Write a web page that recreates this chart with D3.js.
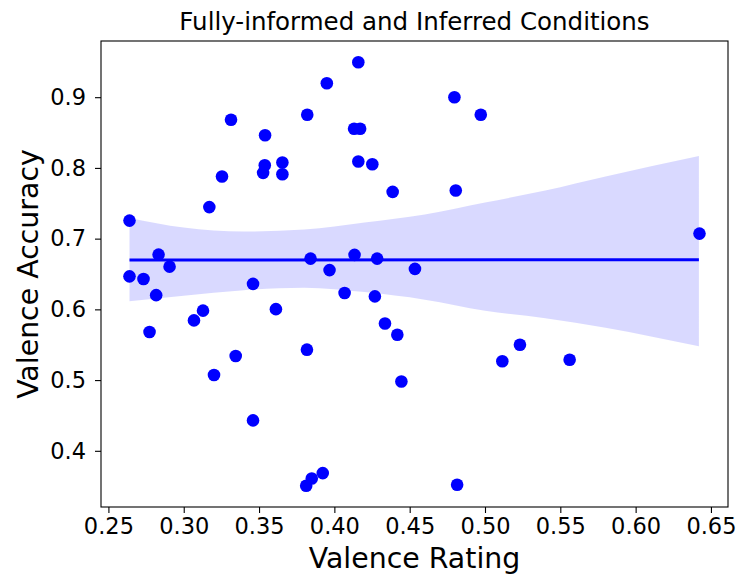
<!DOCTYPE html>
<html>
<head>
<meta charset="utf-8">
<script src="https://cdn.jsdelivr.net/npm/d3@7"></script>
<style>
  body { margin: 0; background: #fff; }
  text { font-family: "DejaVu Sans", sans-serif; fill: #000; }
</style>
</head>
<body>
<div id="chart"></div>
<script>
// Valence rating (x) vs valence accuracy (y)
var rating = [0.2640, 0.2640, 0.2733, 0.2833, 0.2906, 0.2817, 0.2773, 0.3068, 0.3128, 0.3201,
    0.3345, 0.3460, 0.3460, 0.3612, 0.3170, 0.3254, 0.3314, 0.3527, 0.3538, 0.3540,
    0.3655, 0.3655, 0.3820, 0.3950, 0.4159, 0.4131, 0.4171, 0.4159, 0.4252, 0.4387,
    0.4797, 0.4972, 0.4806, 0.6424, 0.3842, 0.3968, 0.4134, 0.4284, 0.4535, 0.4068,
    0.4269, 0.4336, 0.4418, 0.4445, 0.3818, 0.3813, 0.3850, 0.3923, 0.4815, 0.5115,
    0.5232, 0.5562];
var accuracy = [0.7255, 0.6467, 0.6430, 0.6774, 0.6604, 0.6201, 0.5680, 0.5844, 0.5982, 0.5072,
    0.5341, 0.4430, 0.6360, 0.6003, 0.7446, 0.7878, 0.8680, 0.7930, 0.8038, 0.8462,
    0.8076, 0.7910, 0.8751, 0.9198, 0.9495, 0.8553, 0.8553, 0.8090, 0.8052, 0.7661,
    0.9000, 0.8751, 0.7680, 0.7071, 0.6718, 0.6555, 0.6771, 0.6718, 0.6572, 0.6232,
    0.6183, 0.5800, 0.5642, 0.4981, 0.5430, 0.3505, 0.3609, 0.3685, 0.3520, 0.5267,
    0.5500, 0.5288];

// regression fit and its confidence band
var fitX = [0.264, 0.642];
var fitY = [0.6697, 0.6703];
var bandX = [0.264, 0.30, 0.34, 0.38, 0.42, 0.46, 0.50, 0.54, 0.58, 0.642];
var bandLo = [0.6116, 0.6194, 0.6272, 0.6307, 0.6244, 0.6137, 0.5982, 0.5876, 0.5741, 0.5477];
var bandHi = [0.7291, 0.7156, 0.7100, 0.7128, 0.7227, 0.7340, 0.7510, 0.7680, 0.7878, 0.8167];

var xTicks = [0.25, 0.30, 0.35, 0.40, 0.45, 0.50, 0.55, 0.60, 0.65];
var yTicks = [0.4, 0.5, 0.6, 0.7, 0.8, 0.9];

var width = 737, height = 578;
var plotLeft = 101, plotRight = 728, plotTop = 41, plotBottom = 507;

// matplotlib style 5% padding
function padded(vals) {
    var ext = d3.extent(vals);
    var m = (ext[1] - ext[0]) * 0.05;
    return [ext[0] - m, ext[1] + m];
}

var x = d3.scaleLinear().domain(padded(rating)).range([plotLeft, plotRight]);
var y = d3.scaleLinear().domain(padded(accuracy)).range([plotBottom, plotTop]);

var svg = d3.select("#chart").append("svg")
    .attr("width", width)
    .attr("height", height);

var band = bandX.map(function(d, i) {
    return {x: d, lo: bandLo[i], hi: bandHi[i]};
});

svg.append("path")
    .datum(band)
    .attr("fill", "blue")
    .attr("fill-opacity", 0.15)
    .attr("d", d3.area()
        .curve(d3.curveMonotoneX)
        .x(function(d) { return x(d.x); })
        .y0(function(d) { return y(d.lo); })
        .y1(function(d) { return y(d.hi); }));

svg.append("path")
    .datum(fitX.map(function(d, i) { return [d, fitY[i]]; }))
    .attr("fill", "none")
    .attr("stroke", "blue")
    .attr("stroke-width", 3)
    .attr("d", d3.line()
        .x(function(d) { return x(d[0]); })
        .y(function(d) { return y(d[1]); }));

svg.append("g").selectAll("circle")
    .data(rating)
    .enter().append("circle")
    .attr("cx", function(d) { return x(d); })
    .attr("cy", function(d, i) { return y(accuracy[i]); })
    .attr("r", 6.3)
    .attr("fill", "blue");

// axes
var xAxis = svg.append("g")
    .attr("transform", "translate(0," + plotBottom + ")")
    .call(d3.axisBottom(x).tickValues(xTicks).tickFormat(d3.format(".2f"))
        .tickSize(6).tickPadding(5));
var yAxis = svg.append("g")
    .attr("transform", "translate(" + plotLeft + ",0)")
    .call(d3.axisLeft(y).tickValues(yTicks).tickFormat(d3.format(".1f"))
        .tickSize(6).tickPadding(9));

[xAxis, yAxis].forEach(function(g) {
    g.select(".domain").remove();
    g.selectAll(".tick line").attr("stroke", "#000").attr("stroke-width", 1.1);
    g.selectAll(".tick text")
        .style("font-family", "DejaVu Sans")
        .style("font-size", "22.5px")
        .attr("fill", "#000");
});

svg.append("rect")
    .attr("x", plotLeft)
    .attr("y", plotTop)
    .attr("width", plotRight - plotLeft)
    .attr("height", plotBottom - plotTop)
    .attr("fill", "none")
    .attr("stroke", "#000")
    .attr("stroke-width", 1.1);

svg.append("text")
    .attr("x", (plotLeft + plotRight) / 2)
    .attr("y", 30)
    .attr("text-anchor", "middle")
    .style("font-size", "24.5px")
    .text("Fully-informed and Inferred Conditions");

svg.append("text")
    .attr("x", (plotLeft + plotRight) / 2)
    .attr("y", 568)
    .attr("text-anchor", "middle")
    .style("font-size", "28.4px")
    .text("Valence Rating");

svg.append("text")
    .attr("transform", "translate(38," + (plotTop + plotBottom) / 2 + ") rotate(-90)")
    .attr("text-anchor", "middle")
    .style("font-size", "28.4px")
    .text("Valence Accuracy");
</script>
</body>
</html>
